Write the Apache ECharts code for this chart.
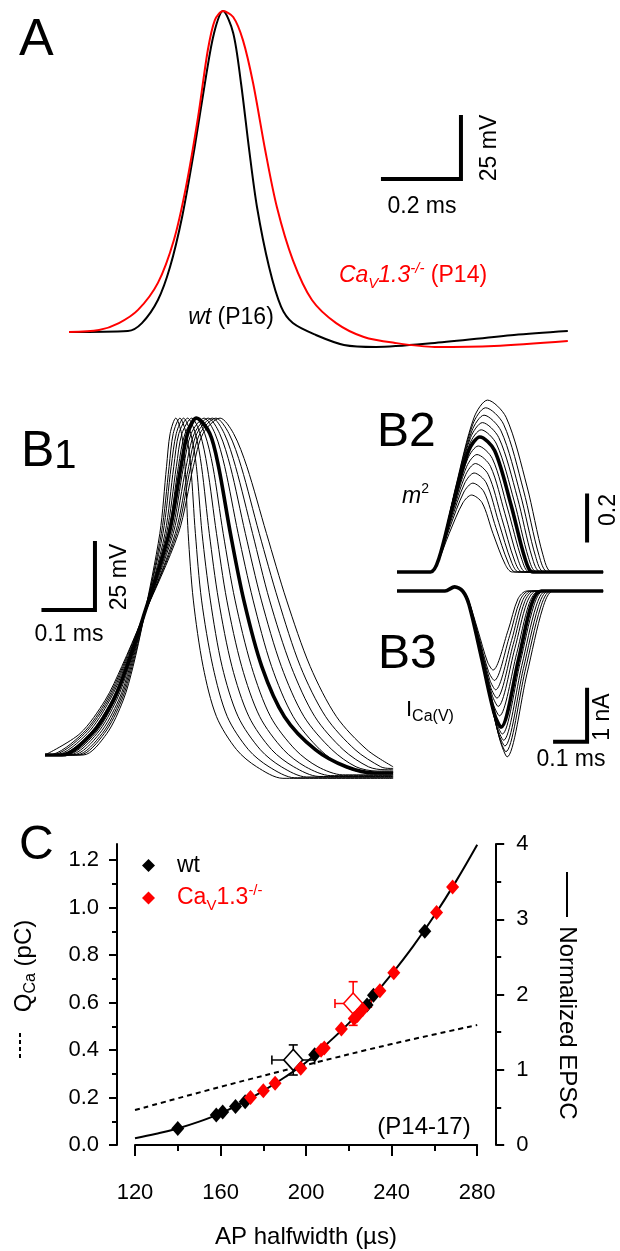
<!DOCTYPE html>
<html>
<head>
<meta charset="utf-8">
<script src="https://cdn.jsdelivr.net/npm/echarts@6/dist/echarts.min.js"></script>
<style>
html, body { margin: 0; padding: 0; background: #fff; }
#container { width: 620px; height: 1251px; }
</style>
</head>
<body>
<div id="container"></div>
<script>
// ---- panel A : recorded APs (time ms, voltage mV)
var aWtTime = [0, 0.151, 0.187, 0.228, 0.259, 0.290, 0.321, 0.351, 0.372, 0.395, 0.421, 0.441, 0.462, 0.482, 0.513, 0.544, 0.574, 0.633, 0.705, 0.787, 0.938, 1.141, 1.279];
var aWtVolt = [-80, -79.6, -76.4, -67.1, -53.8, -33.6, -6.6, 22.8, 40.6, 49.4, 40.6, 20.4, -6.6, -29.6, -53.8, -69.9, -76.4, -81.2, -85.2, -86.0, -84.4, -81.2, -79.6];
var aKoTime = [0, 0.077, 0.128, 0.177, 0.228, 0.269, 0.300, 0.331, 0.356, 0.374, 0.395, 0.421, 0.446, 0.472, 0.503, 0.533, 0.574, 0.623, 0.685, 0.756, 0.836, 0.938, 1.090, 1.279];
var aKoVolt = [-80, -79.2, -76.4, -71.1, -60.2, -42.9, -21.5, 6.7, 33.7, 45.8, 49.4, 47.0, 37.7, 20.4, -6.6, -29.6, -51.0, -67.1, -76.4, -82.0, -84.4, -86.0, -85.6, -83.6];
var scaleA = [0.2, 25];

// ---- panel B1 : AP family, time (ms) at which each trace passes these voltages (mV)
var b1Levels = [-80, -80, -72, -59.5, -47, -29.6, 2.7, 27.6, 40, 45.7, 40, 27.6, 2.7, -22.2, -47, -65.7, -78, -84.4];
var b1Times = [
  [0, 0.074, 0.120, 0.152, 0.171, 0.191, 0.223, 0.236, 0.243, 0.254, 0.265, 0.272, 0.278, 0.288, 0.307, 0.333, 0.372, 0.411],
  [0, 0.067, 0.115, 0.149, 0.169, 0.191, 0.226, 0.241, 0.249, 0.262, 0.274, 0.283, 0.292, 0.304, 0.326, 0.354, 0.395, 0.435],
  [0, 0.061, 0.111, 0.146, 0.167, 0.190, 0.229, 0.245, 0.255, 0.269, 0.283, 0.294, 0.305, 0.321, 0.344, 0.375, 0.418, 0.459],
  [0, 0.054, 0.106, 0.143, 0.165, 0.190, 0.233, 0.250, 0.260, 0.277, 0.292, 0.304, 0.319, 0.337, 0.363, 0.396, 0.440, 0.483],
  [0, 0.047, 0.101, 0.139, 0.163, 0.190, 0.236, 0.255, 0.266, 0.285, 0.301, 0.315, 0.333, 0.353, 0.382, 0.417, 0.463, 0.506],
  [0, 0.041, 0.097, 0.136, 0.161, 0.190, 0.239, 0.259, 0.272, 0.293, 0.310, 0.326, 0.346, 0.369, 0.401, 0.438, 0.486, 0.530],
  [0, 0.033, 0.091, 0.133, 0.159, 0.189, 0.241, 0.264, 0.277, 0.294, 0.320, 0.337, 0.360, 0.386, 0.421, 0.465, 0.525, 0.585],
  [0, 0.027, 0.087, 0.130, 0.157, 0.189, 0.246, 0.269, 0.284, 0.309, 0.330, 0.349, 0.375, 0.404, 0.440, 0.482, 0.534, 0.581],
  [0, 0.020, 0.082, 0.126, 0.155, 0.189, 0.249, 0.274, 0.290, 0.317, 0.339, 0.360, 0.389, 0.420, 0.459, 0.503, 0.557, 0.604],
  [0, 0.013, 0.077, 0.123, 0.153, 0.189, 0.253, 0.279, 0.295, 0.325, 0.348, 0.370, 0.403, 0.436, 0.478, 0.524, 0.579, 0.628],
  [0, 0.007, 0.073, 0.120, 0.151, 0.188, 0.256, 0.283, 0.301, 0.332, 0.357, 0.381, 0.416, 0.453, 0.496, 0.545, 0.602, 0.652],
  [0, 0.001, 0.068, 0.117, 0.149, 0.188, 0.259, 0.288, 0.307, 0.340, 0.366, 0.392, 0.430, 0.469, 0.515, 0.566, 0.625, 0.676]
];
var b1Floor = [-88.7, -88.5, -88.2, -88.0, -87.7, -87.4, -86.7, -86.5, -86.0, -85.5, -85.0, -84.4];
var b1FloorAt = [0.462, 0.485, 0.508, 0.532, 0.555, 0.578, 0.640, 0.625, 0.645, 0.660, 0.670, 0.676];
var b1End = 0.676;
var scaleB1 = [0.1, 25];
var thickTrace = 6;

// ---- panel B2 : m^2, fraction of peak vs time (ms)
var b2Levels = [0, 0, 0.1, 0.5, 0.9, 1, 0.9, 0.5, 0.1, 0, 0];
var b2Peak = [0.342, 0.395, 0.440, 0.482, 0.522, 0.560, 0.600, 0.632, 0.664, 0.697, 0.730, 0.764];
var b2Times = [
  [0, 0.105, 0.125, 0.163, 0.206, 0.233, 0.266, 0.300, 0.338, 0.360, 0.644],
  [0, 0.105, 0.126, 0.165, 0.209, 0.237, 0.272, 0.309, 0.348, 0.370, 0.644],
  [0, 0.105, 0.127, 0.167, 0.212, 0.241, 0.279, 0.318, 0.358, 0.381, 0.644],
  [0, 0.105, 0.128, 0.169, 0.215, 0.245, 0.285, 0.327, 0.368, 0.392, 0.644],
  [0, 0.105, 0.129, 0.171, 0.218, 0.250, 0.292, 0.337, 0.379, 0.403, 0.644],
  [0, 0.105, 0.130, 0.173, 0.221, 0.254, 0.298, 0.346, 0.390, 0.414, 0.644],
  [0, 0.105, 0.131, 0.175, 0.224, 0.259, 0.305, 0.356, 0.400, 0.425, 0.644],
  [0, 0.105, 0.131, 0.177, 0.227, 0.263, 0.311, 0.366, 0.411, 0.437, 0.644],
  [0, 0.105, 0.132, 0.178, 0.230, 0.267, 0.318, 0.376, 0.422, 0.449, 0.644],
  [0, 0.105, 0.133, 0.180, 0.234, 0.272, 0.325, 0.385, 0.433, 0.460, 0.644],
  [0, 0.105, 0.133, 0.182, 0.237, 0.277, 0.333, 0.395, 0.444, 0.472, 0.644],
  [0, 0.105, 0.134, 0.184, 0.241, 0.283, 0.341, 0.406, 0.456, 0.484, 0.644]
];
var scaleB2 = 0.2;

// ---- panel B3 : I_Ca(V) (nA), fraction of minimum vs time (ms)
var b3Bump = [[0, 0], [0.150, 0], [0.180, 0.08]];
var b3Levels = [0, 0.1, 0.5, 0.9, 1, 0.5, 0.1, 0];
var b3Min = [-1.52, -1.72, -1.90, -2.06, -2.22, -2.40, -2.62, -2.75, -2.87, -2.98, -3.09, -3.19];
var b3Times = [
  [0.205, 0.222, 0.253, 0.283, 0.300, 0.347, 0.378, 0.406],
  [0.205, 0.223, 0.255, 0.286, 0.304, 0.352, 0.385, 0.413],
  [0.205, 0.223, 0.257, 0.290, 0.308, 0.358, 0.392, 0.421],
  [0.205, 0.224, 0.259, 0.293, 0.312, 0.363, 0.399, 0.428],
  [0.205, 0.224, 0.261, 0.297, 0.316, 0.368, 0.406, 0.436],
  [0.205, 0.225, 0.263, 0.300, 0.320, 0.374, 0.413, 0.443],
  [0.205, 0.225, 0.265, 0.304, 0.325, 0.380, 0.420, 0.451],
  [0.205, 0.226, 0.267, 0.307, 0.329, 0.385, 0.428, 0.458],
  [0.205, 0.226, 0.269, 0.311, 0.333, 0.390, 0.435, 0.466],
  [0.205, 0.227, 0.271, 0.314, 0.337, 0.395, 0.442, 0.473],
  [0.205, 0.227, 0.273, 0.318, 0.340, 0.400, 0.449, 0.481],
  [0.205, 0.228, 0.275, 0.322, 0.344, 0.406, 0.456, 0.488]
];
var b3End = 0.644;
var scaleB3 = [0.1, 1];

// ---- panel C
var wtHalfwidth = [140, 158, 161, 167, 171.5, 204, 228.5, 231.5, 255.5];
var wtEpsc = [0.22, 0.40, 0.44, 0.51, 0.575, 1.20, 1.86, 1.99, 2.84];
var koHalfwidth = [174, 180, 185.5, 197.5, 207, 208.5, 216.5, 222.5, 224, 226.5, 234.5, 241, 261, 268.5];
var koEpsc = [0.63, 0.72, 0.82, 1.02, 1.26, 1.29, 1.54, 1.68, 1.72, 1.80, 2.05, 2.29, 3.09, 3.43];
var meanHalfwidth = [194, 222];
var meanEpsc = [1.13, 1.88];
var meanHwErr = [10, 8.5];
var meanEpscErr = [0.2, 0.29];
var fitHalfwidth = [120, 130, 140, 150, 160, 170, 180, 190, 200, 210, 220, 230, 240, 250, 260, 270, 280];
var fitEpsc = [0.09, 0.15, 0.22, 0.31, 0.42, 0.56, 0.72, 0.90, 1.10, 1.35, 1.62, 1.93, 2.27, 2.64, 3.05, 3.50, 3.99];
var qcaHalfwidth = [120, 160, 200, 240, 280];
var qcaCharge = [0.147, 0.245, 0.337, 0.425, 0.505];
var qcaTicks = [0, 0.2, 0.4, 0.6, 0.8, 1.0, 1.2];
var qcaMinorTicks = [0.1, 0.3, 0.5, 0.7, 0.9, 1.1];

var RED = '#ff0000';
var FONT = '"Liberation Sans", Arial, sans-serif';

var dom = document.getElementById('container');
var myChart = echarts.init(dom, null, { renderer: 'canvas' });

function pairs(ts, vs) {
  return ts.map(function (t, i) { return [t, vs[i]]; });
}
function trace(idx, data, thick, color) {
  return {
    type: 'line', xAxisIndex: idx, yAxisIndex: idx, data: data,
    symbol: 'none', smooth: 0.3, silent: true, clip: false,
    z: thick ? 5 : 3,
    lineStyle: { color: color || '#000', width: thick ? 3.6 : 1 }
  };
}
function bar(idx, data) {
  return {
    type: 'line', xAxisIndex: idx, yAxisIndex: idx, data: data,
    symbol: 'none', silent: true, clip: false, z: 6,
    lineStyle: { color: '#000', width: 4, cap: 'square', join: 'miter' }
  };
}
function txt(x, y, text, size, opt) {
  opt = opt || {};
  return {
    type: 'text', x: x, y: y, rotation: opt.rot || 0, silent: true, z: 10,
    style: {
      text: text, fill: opt.color || '#000', fontSize: size, fontFamily: FONT,
      fontStyle: opt.italic ? 'italic' : 'normal',
      align: opt.align || 'center', textAlign: opt.align || 'center',
      verticalAlign: 'middle', textVerticalAlign: 'middle',
      rich: opt.rich
    }
  };
}
// rich token style; graphic text uses fill, legend text uses color
function r(size, extra) {
  var o = { fontSize: size, fontFamily: FONT, lineHeight: 30, verticalAlign: 'middle', color: '#000', fill: '#000' };
  for (var k in extra) o[k] = extra[k];
  if (extra && extra.color) o.fill = extra.color;
  return o;
}

var series = [];

// A
series.push(trace(0, pairs(aWtTime, aWtVolt), false, '#000'));
series[0].lineStyle.width = 2;
series.push(trace(0, pairs(aKoTime, aKoVolt), false, RED));
series[1].lineStyle.width = 2;
series.push(bar(0, [[0.805, -18.3], [0.805 + scaleA[0], -18.3], [0.805 + scaleA[0], -18.3 + scaleA[1]]]));

// B1
b1Times.forEach(function (row, i) {
  var d = pairs(row, b1Levels);
  if (b1FloorAt[i] > row[row.length - 1]) d.push([b1FloorAt[i], b1Floor[i]]);
  if (b1FloorAt[i] < b1End) d.push([b1End, b1Floor[i]]);
  series.push(trace(1, d, i === thickTrace));
});
series.push(bar(1, [[-0.003, -25.9], [-0.003 + scaleB1[0], -25.9], [-0.003 + scaleB1[0], -25.9 + scaleB1[1]]]));

// B2
b2Times.forEach(function (row, i) {
  var d = row.map(function (t, j) { return [t, b2Levels[j] * b2Peak[i]]; });
  series.push(trace(2, d, i === thickTrace));
});
series.push(bar(2, [[0.594, 0.14], [0.594, 0.14 + scaleB2]]));

// B3
b3Times.forEach(function (row, i) {
  var d = b3Bump.slice();
  row.forEach(function (t, j) { d.push([t, b3Levels[j] * b3Min[i]]); });
  d.push([b3End, 0]);
  series.push(trace(3, d, i === thickTrace));
});
series.push(bar(3, [[0.494, -2.9], [0.494 + scaleB3[0], -2.9], [0.494 + scaleB3[0], -2.9 + scaleB3[1]]]));

// C
series.push({
  type: 'line', xAxisIndex: 4, yAxisIndex: 4, data: pairs(qcaHalfwidth, qcaCharge),
  symbol: 'none', smooth: 0.4, silent: true, z: 2,
  lineStyle: { color: '#000', width: 2, type: [5, 4] }
});
series.push({
  type: 'line', xAxisIndex: 4, yAxisIndex: 5, data: pairs(fitHalfwidth, fitEpsc),
  symbol: 'none', smooth: 0.4, silent: true, z: 2,
  lineStyle: { color: '#000', width: 2 }
});
series.push({
  type: 'custom', xAxisIndex: 4, yAxisIndex: 5, z: 3, silent: true,
  data: meanHalfwidth.map(function (x, i) {
    return { value: [x, meanEpsc[i], meanHwErr[i], meanEpscErr[i]], itemStyle: { color: i === 0 ? '#000' : RED } };
  }),
  renderItem: function (params, api) {
    var x = api.value(0), y = api.value(1), ex = api.value(2), ey = api.value(3);
    var l = api.coord([x - ex, y]), rr = api.coord([x + ex, y]);
    var t = api.coord([x, y + ey]), b = api.coord([x, y - ey]);
    var c = 4.5;
    var st = { stroke: api.visual('color'), lineWidth: 1.6 };
    function seg(x1, y1, x2, y2) { return { type: 'line', shape: { x1: x1, y1: y1, x2: x2, y2: y2 }, style: st }; }
    return {
      type: 'group', children: [
        seg(l[0], l[1], rr[0], rr[1]), seg(t[0], t[1], b[0], b[1]),
        seg(l[0], l[1] - c, l[0], l[1] + c), seg(rr[0], rr[1] - c, rr[0], rr[1] + c),
        seg(t[0] - c, t[1], t[0] + c, t[1]), seg(b[0] - c, b[1], b[0] + c, b[1])
      ]
    };
  }
});
series.push({
  type: 'scatter', xAxisIndex: 4, yAxisIndex: 5, symbol: 'diamond', symbolSize: [19, 21], z: 4, silent: true,
  data: meanHalfwidth.map(function (x, i) {
    return { value: [x, meanEpsc[i]], itemStyle: { color: '#fff', opacity: 1, borderColor: i === 0 ? '#000' : RED, borderWidth: 1.6 } };
  })
});
series.push({
  name: 'wt', type: 'scatter', xAxisIndex: 4, yAxisIndex: 5, symbol: 'diamond', symbolSize: [13, 15], z: 5,
  itemStyle: { color: '#000', opacity: 1 }, data: pairs(wtHalfwidth, wtEpsc)
});
series.push({
  name: 'CaV', type: 'scatter', xAxisIndex: 4, yAxisIndex: 5, symbol: 'diamond', symbolSize: [13, 15], z: 6,
  itemStyle: { color: RED, opacity: 1 }, data: pairs(koHalfwidth, koEpsc)
});

var hidden = { show: false };

var option = {
  animation: false,
  textStyle: { fontFamily: FONT },
  grid: [
    { left: 69, top: 9.6, width: 507, height: 347.2, outerBoundsMode: 'none' },
    { left: 34.7, top: 406.6, width: 370.8, height: 388.6, outerBoundsMode: 'none' },
    { left: 397, top: 392, width: 208, height: 191.25, outerBoundsMode: 'none' },
    { left: 397, top: 575.4, width: 208, height: 202.8, outerBoundsMode: 'none' },
    { left: 135, top: 844, width: 342.2, height: 301, outerBoundsMode: 'none' }
  ],
  xAxis: [
    { gridIndex: 0, type: 'value', min: 0, max: 1.3, show: false },
    { gridIndex: 1, type: 'value', min: -0.02, max: 0.70, show: false },
    { gridIndex: 2, type: 'value', min: 0, max: 0.65, show: false },
    { gridIndex: 3, type: 'value', min: 0, max: 0.65, show: false },
    {
      gridIndex: 4, type: 'value', min: 120, max: 280, interval: 40, offset: 17,
      axisLine: { lineStyle: { color: '#000', width: 2 } },
      axisTick: { length: 11, lineStyle: { color: '#000', width: 2 } },
      minorTick: { show: true, splitNumber: 2, length: 6, lineStyle: { color: '#000', width: 2 } },
      axisLabel: { margin: 20, color: '#000', fontSize: 22, fontFamily: FONT },
      splitLine: hidden, minorSplitLine: hidden
    }
  ],
  yAxis: [
    { gridIndex: 0, type: 'value', min: -90, max: 50, show: false },
    { gridIndex: 1, type: 'value', min: -95, max: 50, show: false },
    { gridIndex: 2, type: 'value', min: -0.05, max: 0.8, show: false },
    { gridIndex: 3, type: 'value', min: -3.6, max: 0.3, show: false },
    {
      gridIndex: 4, type: 'value', position: 'left', offset: 18, min: 0, max: 1.2674,
      axisLine: { show: true, lineStyle: { color: '#000', width: 2 } },
      axisTick: { show: true, length: 8, customValues: qcaTicks, lineStyle: { color: '#000', width: 2 } },
      axisLabel: { margin: 18, color: '#000', fontSize: 22, fontFamily: FONT, customValues: qcaTicks,
        formatter: function (v) { return v.toFixed(1); } },
      splitLine: hidden
    },
    {
      gridIndex: 4, type: 'value', position: 'right', offset: 19, min: 0, max: 4, interval: 1,
      axisLine: { show: true, lineStyle: { color: '#000', width: 2 } },
      axisTick: { show: true, length: 8, lineStyle: { color: '#000', width: 2 } },
      minorTick: { show: true, splitNumber: 2, length: 5, lineStyle: { color: '#000', width: 2 } },
      axisLabel: { margin: 20, color: '#000', fontSize: 22, fontFamily: FONT },
      splitLine: hidden, minorSplitLine: hidden
    },
    {
      gridIndex: 4, type: 'value', position: 'left', offset: 18, min: 0, max: 1.2674,
      axisLine: hidden,
      axisTick: { show: true, length: 5, customValues: qcaMinorTicks, lineStyle: { color: '#000', width: 2 } },
      axisLabel: hidden, splitLine: hidden
    }
  ],
  legend: {
    data: ['wt', 'CaV'], orient: 'vertical', left: 137, top: 849,
    icon: 'diamond', itemWidth: 13, itemHeight: 13, itemGap: 6,
    selectedMode: false,
    formatter: function (n) {
      return n === 'wt' ? '{k|wt}' : '{r|Ca}{rs|V}{r|1.3}{rp|-/-}';
    },
    textStyle: {
      padding: [0, 0, 0, 17],
      rich: {
        k: r(23),
        r: r(23, { color: RED }),
        rs: r(15, { color: RED, lineHeight: 14, verticalAlign: 'bottom' }),
        rp: r(15, { color: RED, lineHeight: 14, verticalAlign: 'top' })
      }
    }
  },
  graphic: [
    // panel letters
    txt(19, 41, 'A', 52, { align: 'left' }),
    txt(21, 449, '{b|B}{n|1}', 50, { align: 'left', rich: { b: r(50, { lineHeight: 56, verticalAlign: 'bottom' }), n: r(40, { lineHeight: 48, verticalAlign: 'bottom' }) } }),
    txt(377, 433, 'B2', 48, { align: 'left' }),
    txt(378, 655, 'B3', 48, { align: 'left' }),
    txt(19, 846, 'C', 48, { align: 'left' }),
    // panel A text
    txt(490, 148, '25 mV', 23, { rot: Math.PI / 2 }),
    txt(422, 207, '0.2 ms', 23),
    txt(231, 318, '{i|wt}{n| (P16)}', 23, { rich: { i: r(23, { fontStyle: 'italic' }), n: r(23) } }),
    txt(413, 276, '{i|Ca}{s|V}{i|1.3}{p|-/-}{n| (P14)}', 23, { rich: {
      i: r(23, { fontStyle: 'italic', color: RED }),
      s: r(15, { fontStyle: 'italic', color: RED, lineHeight: 15, verticalAlign: 'bottom' }),
      p: r(15, { fontStyle: 'italic', color: RED, lineHeight: 15, verticalAlign: 'top' }),
      n: r(23, { color: RED })
    } }),
    // panel B text
    txt(120, 577, '25 mV', 23, { rot: Math.PI / 2 }),
    txt(69, 635, '0.1 ms', 23),
    txt(402, 497, '{m|m}{s|2}', 22, { align: 'left', rich: {
      m: r(23, { fontStyle: 'italic' }),
      s: r(14, { lineHeight: 14, verticalAlign: 'top' })
    } }),
    txt(609, 510, '0.2', 23, { rot: Math.PI / 2 }),
    txt(406, 710, '{t|I}{s|Ca(V)}', 22, { align: 'left', rich: {
      t: r(22),
      s: r(16, { lineHeight: 16, verticalAlign: 'bottom' })
    } }),
    txt(603, 717, '1 nA', 23, { rot: Math.PI / 2 }),
    txt(571, 760, '0.1 ms', 23),
    // panel C text
    txt(424, 1127, '(P14-17)', 24),
    txt(306, 1237, 'AP halfwidth (\u00b5s)', 24),
    txt(24, 966, '{t|Q}{s|Ca}{t| (pC)}', 24, { rot: Math.PI / 2, rich: {
      t: r(24),
      s: r(16, { lineHeight: 15, verticalAlign: 'bottom' })
    } }),
    {
      type: 'line', silent: true, z: 10,
      shape: { x1: 20, y1: 1033, x2: 20, y2: 1061 },
      style: { stroke: '#000', lineWidth: 2, lineDash: [4, 3] }
    },
    txt(567, 1023, 'Normalized EPSC', 24, { rot: -Math.PI / 2 }),
    {
      type: 'line', silent: true, z: 10,
      shape: { x1: 567, y1: 872, x2: 567, y2: 917 },
      style: { stroke: '#000', lineWidth: 2 }
    }
  ],
  series: series
};

myChart.setOption(option);
window.addEventListener('resize', myChart.resize);
</script>
</body>
</html>
